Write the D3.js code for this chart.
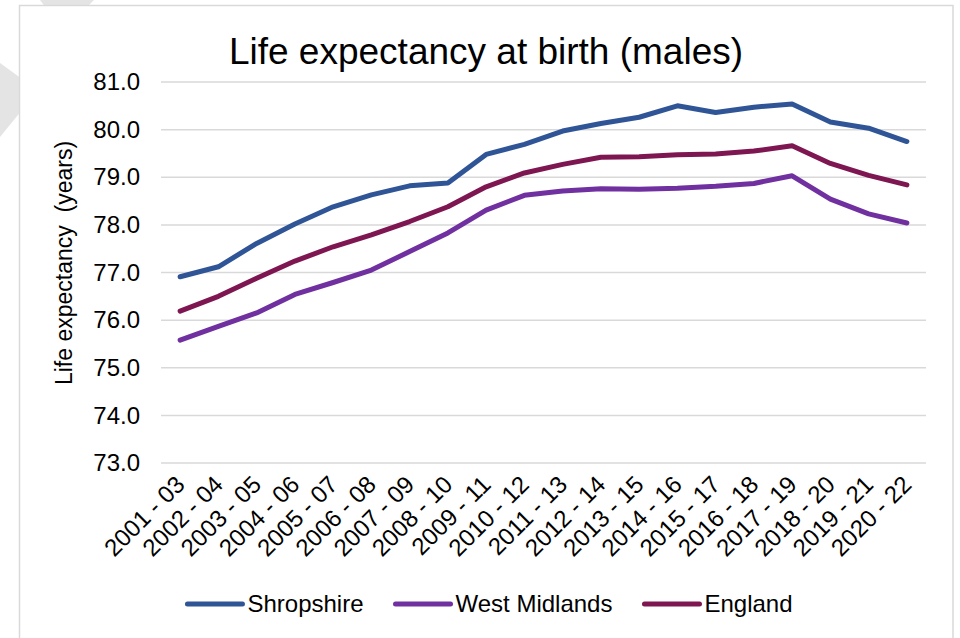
<!DOCTYPE html>
<html>
<head>
<meta charset="utf-8">
<script src="https://cdn.jsdelivr.net/npm/d3@7/dist/d3.min.js"></script>
<style>
  html, body { margin: 0; padding: 0; background: #fff; }
  svg { display: block; font-family: "Liberation Sans", Arial, sans-serif; }
</style>
</head>
<body>
<svg id="chart" width="960" height="638"></svg>
<script>
// Three-year rolling periods
const categories = [
  "2001 - 03", "2002 - 04", "2003 - 05", "2004 - 06", "2005 - 07",
  "2006 - 08", "2007 - 09", "2008 - 10", "2009 - 11", "2010 - 12",
  "2011 - 13", "2012 - 14", "2013 - 15", "2014 - 16", "2015 - 17",
  "2016 - 18", "2017 - 19", "2018 - 20", "2019 - 21", "2020 - 22"
];

// Male life expectancy at birth (years)
const shropshire = [76.91, 77.12, 77.61, 78.02, 78.38, 78.63, 78.82, 78.88, 79.48, 79.69,
                    79.97, 80.13, 80.26, 80.50, 80.36, 80.47, 80.54, 80.16, 80.03, 79.75];
const westMidlands = [75.58, 75.87, 76.15, 76.54, 76.79, 77.05, 77.44, 77.83, 78.31, 78.62,
                      78.71, 78.76, 78.75, 78.77, 78.81, 78.87, 79.03, 78.54, 78.23, 78.04];
const england = [76.19, 76.50, 76.88, 77.24, 77.54, 77.79, 78.07, 78.38, 78.80, 79.09,
                 79.27, 79.42, 79.43, 79.47, 79.49, 79.55, 79.66, 79.29, 79.04, 78.84];

const seriesNames = ["Shropshire", "West Midlands", "England"];
const seriesColors = ["#2F5597", "#7030A0", "#7E1651"];
const yTicks = [73, 74, 75, 76, 77, 78, 79, 80, 81];

const titleText = "Life expectancy at birth (males)";
const yAxisTitle = "Life expectancy  (years)";

const series = [shropshire, westMidlands, england].map((values, i) => ({
  name: seriesNames[i],
  color: seriesColors[i],
  values: values.map((v, j) => ({ cat: categories[j], v }))
}));

const svg = d3.select("#chart");

// Decorative grey chevrons sitting behind the chart frame
const deco = svg.append("g").attr("fill", "#e4e4e4");
deco.append("polygon").attr("points", "40,0 94,0 86,8 46,8");
deco.append("polygon").attr("points", "0,63 22,79 22,110 0,137");

// Chart frame
svg.append("rect")
  .attr("x", 19.5).attr("y", 5.5)
  .attr("width", 933.5).attr("height", 650)
  .attr("fill", "#fff")
  .attr("stroke", "#d9d9d9")
  .attr("stroke-width", 1.5);

const plot = { left: 161, right: 926, top: 82, bottom: 463 };

const x = d3.scaleBand()
  .domain(categories)
  .range([plot.left, plot.right]);

const y = d3.scaleLinear()
  .domain([73, 81])
  .range([plot.bottom, plot.top]);

const xc = d => x(d) + x.bandwidth() / 2;

// Horizontal gridlines
svg.append("g")
  .selectAll("line")
  .data(yTicks)
  .join("line")
  .attr("x1", plot.left).attr("x2", plot.right)
  .attr("y1", d => y(d)).attr("y2", d => y(d))
  .attr("stroke", "#d9d9d9")
  .attr("stroke-width", 1.5);

// Y axis labels
const yAxis = d3.axisLeft(y)
  .tickValues(yTicks)
  .tickFormat(d3.format(".1f"))
  .tickSize(0)
  .tickPadding(21);

const yg = svg.append("g")
  .attr("transform", `translate(${plot.left},0)`)
  .call(yAxis);
yg.select(".domain").remove();
yg.selectAll("text")
  .attr("font-size", 24)
  .attr("font-family", "'Liberation Sans', Arial, sans-serif")
  .attr("fill", "#000");

// X axis labels, rotated
const xAxis = d3.axisBottom(x).tickSize(0).tickPadding(0);
const xg = svg.append("g")
  .attr("transform", `translate(0,${plot.bottom})`)
  .call(xAxis);
xg.select(".domain").remove();
xg.selectAll(".tick text")
  .attr("font-size", 24)
  .attr("font-family", "'Liberation Sans', Arial, sans-serif")
  .attr("fill", "#000")
  .attr("text-anchor", "end")
  .attr("x", 0).attr("y", 0)
  .attr("dy", "0.35em")
  .attr("transform", "translate(0,17) rotate(-45)");

// Series lines
const line = d3.line()
  .x(d => xc(d.cat))
  .y(d => y(d.v));

svg.append("g")
  .selectAll("path")
  .data(series)
  .join("path")
  .attr("d", d => line(d.values))
  .attr("fill", "none")
  .attr("stroke", d => d.color)
  .attr("stroke-width", 5)
  .attr("stroke-linejoin", "round")
  .attr("stroke-linecap", "round");

// Title
svg.append("text")
  .attr("x", 486).attr("y", 64)
  .attr("text-anchor", "middle")
  .attr("font-size", 37)
  .attr("fill", "#000")
  .text(titleText);

// Y axis title
svg.append("text")
  .attr("transform", "translate(72,263) rotate(-90)")
  .attr("text-anchor", "middle")
  .attr("font-size", 23)
  .attr("fill", "#000")
  .attr("xml:space", "preserve")
  .style("white-space", "pre")
  .text(yAxisTitle);

// Legend
const legend = svg.append("g");
const legendY = 604;
const items = legend.selectAll("g")
  .data(series)
  .join("g");
items.append("line")
  .attr("x1", 0).attr("x2", 55)
  .attr("y1", 0).attr("y2", 0)
  .attr("stroke", d => d.color)
  .attr("stroke-width", 5)
  .attr("stroke-linecap", "round");
items.append("text")
  .attr("x", 60).attr("y", 0)
  .attr("dy", "0.35em")
  .attr("font-size", 24)
  .attr("fill", "#000")
  .text(d => d.name);

const gap = 32;
let widths = [];
items.each(function() {
  widths.push(60 + this.querySelector("text").getComputedTextLength());
});
const total = d3.sum(widths) + gap * (widths.length - 1);
let cursor = 490 - total / 2;
items.attr("transform", (d, i) => {
  const t = `translate(${cursor},${legendY})`;
  cursor += widths[i] + gap;
  return t;
});
</script>
</body>
</html>
